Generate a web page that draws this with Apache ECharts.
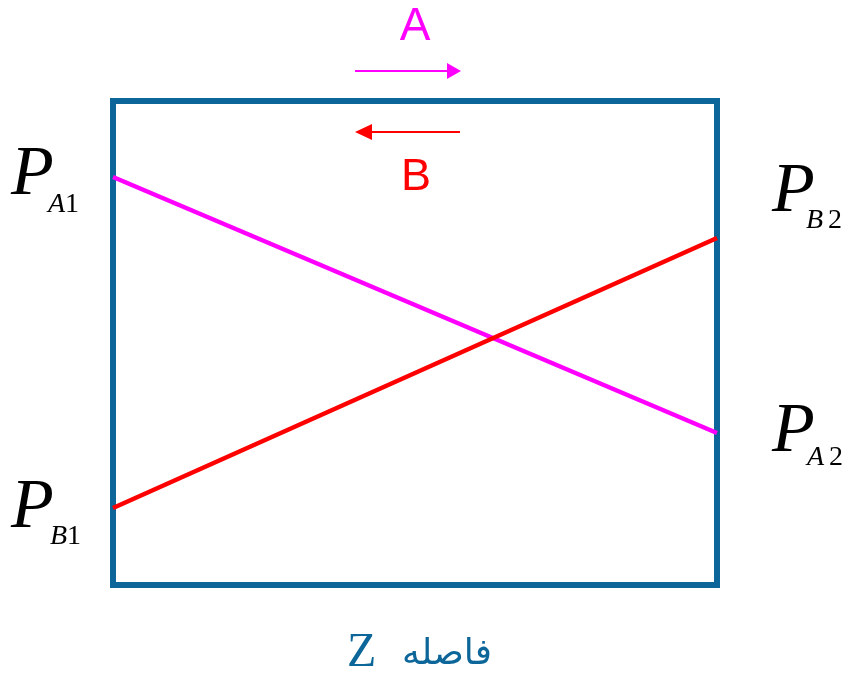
<!DOCTYPE html>
<html>
<head>
<meta charset="utf-8">
<script src="https://cdn.jsdelivr.net/npm/echarts@6/dist/echarts.min.js"></script>
<style>html,body{margin:0;padding:0;background:#fff}#c{width:850px;height:677px}</style>
</head>
<body>
<div id="c"></div>
<script>
// Data (normalised 0..100 along distance Z and pressure axis)
const zRange = [0, 100];
const seriesA = [[0, 84.3], [100, 31.4]];   // P_A1 -> P_A2 (magenta)
const seriesB = [[0, 15.9], [100, 71.7]];   // P_B1 -> P_B2 (red)
const flowLabels = ['A', 'B'];
const axisTitle = 'فاصله';

const BLUE = '#0d6699';
const MAG = '#ff00ff';
const RED = '#ff0000';
const SERIF = '"Liberation Serif","Times New Roman",serif';

function pLabel(x, capTop, sub, num, gap) {
  return [
    { type: 'text', left: x, top: capTop - 9, style: { text: 'P', font: 'italic 70px ' + SERIF, fill: '#000' } },
    { type: 'text', x: sub[0], y: sub[1], style: {
        text: '{i|' + sub[2] + '}{n|' + num + '}', verticalAlign: 'middle',
        rich: {
          i: { fontFamily: SERIF, fontStyle: 'italic', fontSize: 28, color: '#000' },
          n: { fontFamily: SERIF, fontSize: 28, color: '#000', padding: [0, 0, 0, gap] }
        } } }
  ];
}

const chart = echarts.init(document.getElementById('c'));
chart.setOption({
  animation: false,
  backgroundColor: '#fff',
  grid: { left: 113, right: 133, top: 101, bottom: 92, show: true, borderColor: BLUE, borderWidth: 6, backgroundColor: 'transparent' },
  xAxis: { type: 'value', min: zRange[0], max: zRange[1], show: false },
  yAxis: { type: 'value', min: 0, max: 100, show: false },
  series: [
    { type: 'line', data: seriesA, symbol: 'none', lineStyle: { color: MAG, width: 4.5 }, z: 3 },
    { type: 'line', data: seriesB, symbol: 'none', lineStyle: { color: RED, width: 4.5 }, z: 3 }
  ],
  graphic: [
    // A arrow
    { type: 'text', x: 415, y: 27, style: { text: flowLabels[0], font: '46px "Liberation Sans",Arial,sans-serif', fill: MAG, align: 'center', verticalAlign: 'middle' } },
    { type: 'line', shape: { x1: 355, y1: 71, x2: 448, y2: 71 }, style: { stroke: MAG, lineWidth: 2 } },
    { type: 'polygon', shape: { points: [[447, 63], [461, 71], [447, 79]] }, style: { fill: MAG } },
    // B arrow
    { type: 'line', shape: { x1: 371, y1: 132, x2: 460, y2: 132 }, style: { stroke: RED, lineWidth: 2 } },
    { type: 'polygon', shape: { points: [[372, 124], [355, 132], [372, 140]] }, style: { fill: RED } },
    { type: 'text', x: 416, y: 178, style: { text: flowLabels[1], font: '45px "Liberation Sans",Arial,sans-serif', fill: RED, align: 'center', verticalAlign: 'middle' } },
    // P labels
    ...pLabel(11, 150, [48, 205, 'A'], '1', 0),
    ...pLabel(11, 483, [50, 537, 'B'], '1', 0),
    ...pLabel(772, 167, [806, 221, 'B'], '2', 5),
    ...pLabel(772, 407, [807, 458, 'A'], '2', 5),
    // bottom title
    { type: 'text', x: 347, y: 653, style: { text: 'Z', font: '48px ' + SERIF, fill: BLUE, verticalAlign: 'middle' } },
    { type: 'text', x: 402, y: 655, style: { text: axisTitle, font: '36px "DejaVu Sans",sans-serif', fill: BLUE, verticalAlign: 'middle' } }
  ]
});
</script>
</body>
</html>
